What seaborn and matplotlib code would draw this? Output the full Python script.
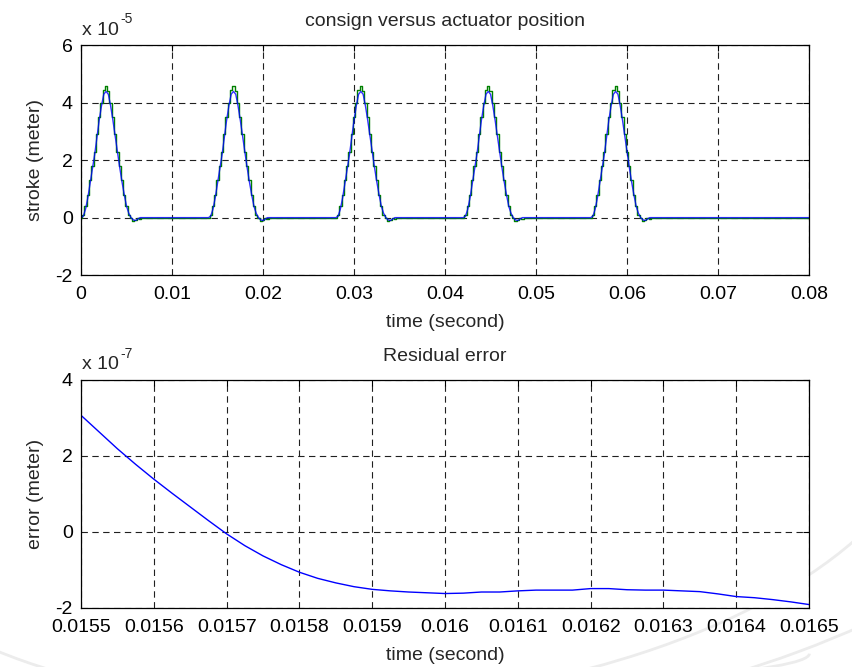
import numpy as np
import pandas as pd
import matplotlib
matplotlib.use("Agg")
import matplotlib.pyplot as plt
from matplotlib.patches import Arc
import seaborn as sns

# ---------------- data ----------------
# top plot: five identical moves, starting every 14 ms
pulse_starts_s = [0.000, 0.014, 0.028, 0.042, 0.056]
sample_step_ms = 0.25
# consign (green staircase), units of 1e-5 m, one value every 0.25 ms from pulse start
consign_shape = [0.0, 0.1, 0.4, 0.8, 1.3, 1.8, 2.3, 2.9, 3.5, 4.0, 4.45, 4.6,
                 4.4, 4.0, 3.5, 2.9, 2.3, 1.8, 1.3, 0.8, 0.4, 0.1, 0.0,
                 -0.12, -0.08, 0.0, -0.05, 0.0]
# actuator position (blue), units of 1e-5 m, same sampling
position_shape = [0.0, 0.05, 0.3, 0.7, 1.2, 1.7, 2.2, 2.8, 3.4, 3.9, 4.3, 4.4,
                  4.3, 3.9, 3.4, 2.85, 2.3, 1.75, 1.25, 0.8, 0.4, 0.15, 0.0,
                  -0.08, -0.1, -0.05, 0.0, 0.0]
top_end_s = 0.08

# bottom plot: residual error, units of 1e-7 m
err_time = [0.015500, 0.015525, 0.015550, 0.015575, 0.015600, 0.015625, 0.015650,
            0.015675, 0.015700, 0.015725, 0.015750, 0.015775, 0.015800, 0.015825,
            0.015850, 0.015875, 0.015900, 0.015925, 0.015950, 0.015975, 0.016000,
            0.016025, 0.016050, 0.016075, 0.016100, 0.016125, 0.016150, 0.016175,
            0.016200, 0.016225, 0.016250, 0.016275, 0.016300, 0.016325, 0.016350,
            0.016375, 0.016400, 0.016425, 0.016450, 0.016475, 0.016500]
err_value = [3.07, 2.63, 2.19, 1.78, 1.39, 1.02, 0.66, 0.30, -0.05, -0.36, -0.63,
             -0.86, -1.06, -1.22, -1.34, -1.44, -1.51, -1.55, -1.58, -1.60, -1.62,
             -1.61, -1.58, -1.58, -1.55, -1.53, -1.53, -1.53, -1.49, -1.49, -1.52,
             -1.53, -1.53, -1.55, -1.57, -1.63, -1.70, -1.73, -1.78, -1.84, -1.91]

top_xticks = [0, 0.01, 0.02, 0.03, 0.04, 0.05, 0.06, 0.07, 0.08]
top_xlabels = ["0", "0.01", "0.02", "0.03", "0.04", "0.05", "0.06", "0.07", "0.08"]
top_yticks = [-2, 0, 2, 4, 6]
bot_xticks = [0.0155, 0.0156, 0.0157, 0.0158, 0.0159, 0.0160, 0.0161, 0.0162, 0.0163, 0.0164, 0.0165]
bot_xlabels = ["0.0155", "0.0156", "0.0157", "0.0158", "0.0159", "0.016",
               "0.0161", "0.0162", "0.0163", "0.0164", "0.0165"]
bot_yticks = [-2, 0, 2, 4]

# ---------------- build series on a sample grid ----------------
n = int(round(top_end_s * 1000 / sample_step_ms)) + 1
t_grid = np.arange(n) * sample_step_ms / 1000.0
consign = np.zeros(n)
position = np.zeros(n)
for s in pulse_starts_s:
    i0 = int(round(s * 1000 / sample_step_ms))
    for k, v in enumerate(consign_shape):
        if i0 + k < n:
            consign[i0 + k] = v
    for k, v in enumerate(position_shape):
        if i0 + k < n:
            position[i0 + k] = v
top_df = pd.DataFrame({"time": t_grid, "consign": consign, "position": position})
err_df = pd.DataFrame({"time": err_time, "error": err_value})

# ---------------- style ----------------
sns.set_style("white")
plt.rcParams["font.family"] = ["Liberation Sans", "DejaVu Sans"]
plt.rcParams["lines.scale_dashes"] = False
FS = 14

fig = plt.figure(figsize=(8.52, 6.67), dpi=100, facecolor="white")

# faint background swooshes (decoration)
for (cx, cy, w, h, ang, t1, t2) in [
        (0.55, 0.10, 1.60, 0.55, 12, 180, 360),
        (0.60, 0.05, 1.70, 0.62, 12, 185, 355),
        (0.50, 0.20, 1.45, 0.60, 10, 190, 350),
        (0.45, 0.35, 1.30, 0.80, 8, 195, 345),
        (0.95, 0.10, 0.60, 0.55, 25, 200, 330),
        (0.40, 0.02, 1.10, 0.10, 0, 180, 360)]:
    fig.add_artist(Arc((cx, cy), w, h, angle=ang, theta1=t1, theta2=t2,
                       transform=fig.transFigure, color="#ececec", lw=2.0, zorder=0))

ax1 = fig.add_axes([0.0951, 0.5877, 0.8545, 0.3441])
ax2 = fig.add_axes([0.0951, 0.0885, 0.8545, 0.3418])

sns.lineplot(data=top_df, x="time", y="consign", ax=ax1, color=(0, 0.5, 0),
             lw=1.0, drawstyle="steps-mid", estimator=None, sort=False)
sns.lineplot(data=top_df, x="time", y="position", ax=ax1, color=(0, 0, 1),
             lw=1.0, estimator=None, sort=False, alpha=0.8)
sns.lineplot(data=err_df, x="time", y="error", ax=ax2, color=(0, 0, 1),
             lw=1.0, estimator=None, sort=False)

def style(ax, xticks, xlabels, yticks, xlim, ylim, title, ylabel, expo):
    ax.set_facecolor("white")
    ax.set_zorder(2)
    ax.set_xlim(*xlim)
    ax.set_ylim(*ylim)
    ax.set_xticks(xticks)
    ax.set_xticklabels(xlabels)
    ax.set_yticks(yticks)
    ax.set_yticklabels([str(v) for v in yticks])
    ax.grid(True, color="#202020", lw=0.8, linestyle=(0, (4.6, 3.2)))
    ax.tick_params(direction="in", length=4, width=0.8, top=True, right=True,
                   labelsize=FS, colors="black")
    ax.tick_params(axis="x", pad=8)
    ax.tick_params(axis="y", pad=6)
    for sp in ax.spines.values():
        sp.set_color("black")
        sp.set_linewidth(0.9)
        sp.set_visible(True)
    ax.set_title(title, fontsize=FS, pad=14)
    ax.set_xlabel("time (second)", fontsize=FS, labelpad=8)
    ax.set_ylabel(ylabel, fontsize=FS, labelpad=8)
    ax.annotate("x 10", xy=(0, 1), xycoords="axes fraction",
                xytext=(1, 5), textcoords="offset points", fontsize=FS,
                ha="left", va="bottom")
    ax.annotate(str(expo), xy=(0, 1), xycoords="axes fraction",
                xytext=(28, 14), textcoords="offset points", fontsize=10,
                ha="left", va="bottom")

style(ax1, top_xticks, top_xlabels, top_yticks, (0, 0.08), (-2, 6),
      "consign versus actuator position", "stroke (meter)", -5)
style(ax2, bot_xticks, bot_xlabels, bot_yticks, (0.0155, 0.0165), (-2, 4),
      "Residual error", "error (meter)", -7)

fig.savefig("out.png", dpi=100, facecolor="white")
